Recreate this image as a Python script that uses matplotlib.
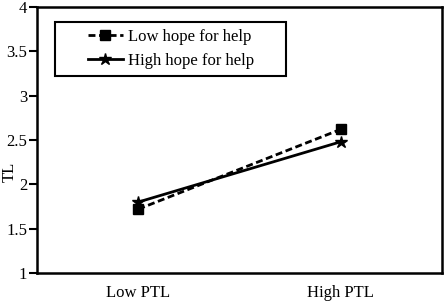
import matplotlib
matplotlib.use('Agg')
from matplotlib import pyplot as plt
from matplotlib.patches import Rectangle
import numpy as np

# data
categories = ['Low PTL', 'High PTL']
low_hope = [1.72, 2.62]
high_hope = [1.80, 2.48]
yticks = [1, 1.5, 2, 2.5, 3, 3.5, 4]
ytick_labels = ['1', '1.5', '2', '2.5', '3', '3.5', '4']

plt.rcParams['font.family'] = ['Liberation Serif', 'DejaVu Serif']
plt.rcParams['font.size'] = 12

fig = plt.figure(figsize=(4.46, 3.04), dpi=100)
ax = fig.add_axes([0.083, 0.102, 0.908, 0.875])

x = np.arange(len(categories))
ax.plot(x, low_hope, color='black', linestyle=(0, (2.5, 1.3)), linewidth=2,
        marker='s', markersize=7, label='Low hope for help')
ax.plot(x, high_hope, color='black', linestyle='-', linewidth=2,
        marker='*', markersize=9, label='High hope for help')

ax.set_xlim(-0.5, 1.5)
ax.set_ylim(1, 4)
ax.set_xticks(x)
ax.set_xticklabels(categories)
ax.set_yticks(yticks)
ax.set_yticklabels(ytick_labels)
ax.tick_params(axis='x', length=0, pad=9)
ax.tick_params(axis='y', direction='out', length=6, width=1.5, pad=1)
ax.set_ylabel('TL', va='center')
ax.yaxis.set_label_coords(-0.068, 0.38)

for s in ax.spines.values():
    s.set_linewidth(1.8)
    s.set_color('black')

# legend box drawn by hand, contents centred in it
ax.add_patch(Rectangle((0.044, 0.741), 0.571, 0.203, transform=ax.transAxes,
                       fill=True, facecolor='white', edgecolor='black',
                       linewidth=1.5, zorder=4))
leg = ax.legend(loc='center', bbox_to_anchor=(0.330, 0.842), frameon=False,
                handlelength=2.1, handletextpad=0.3, borderpad=0,
                labelspacing=0.45, fontsize=12)
leg.set_zorder(5)

fig.savefig('out.png', dpi=100)
